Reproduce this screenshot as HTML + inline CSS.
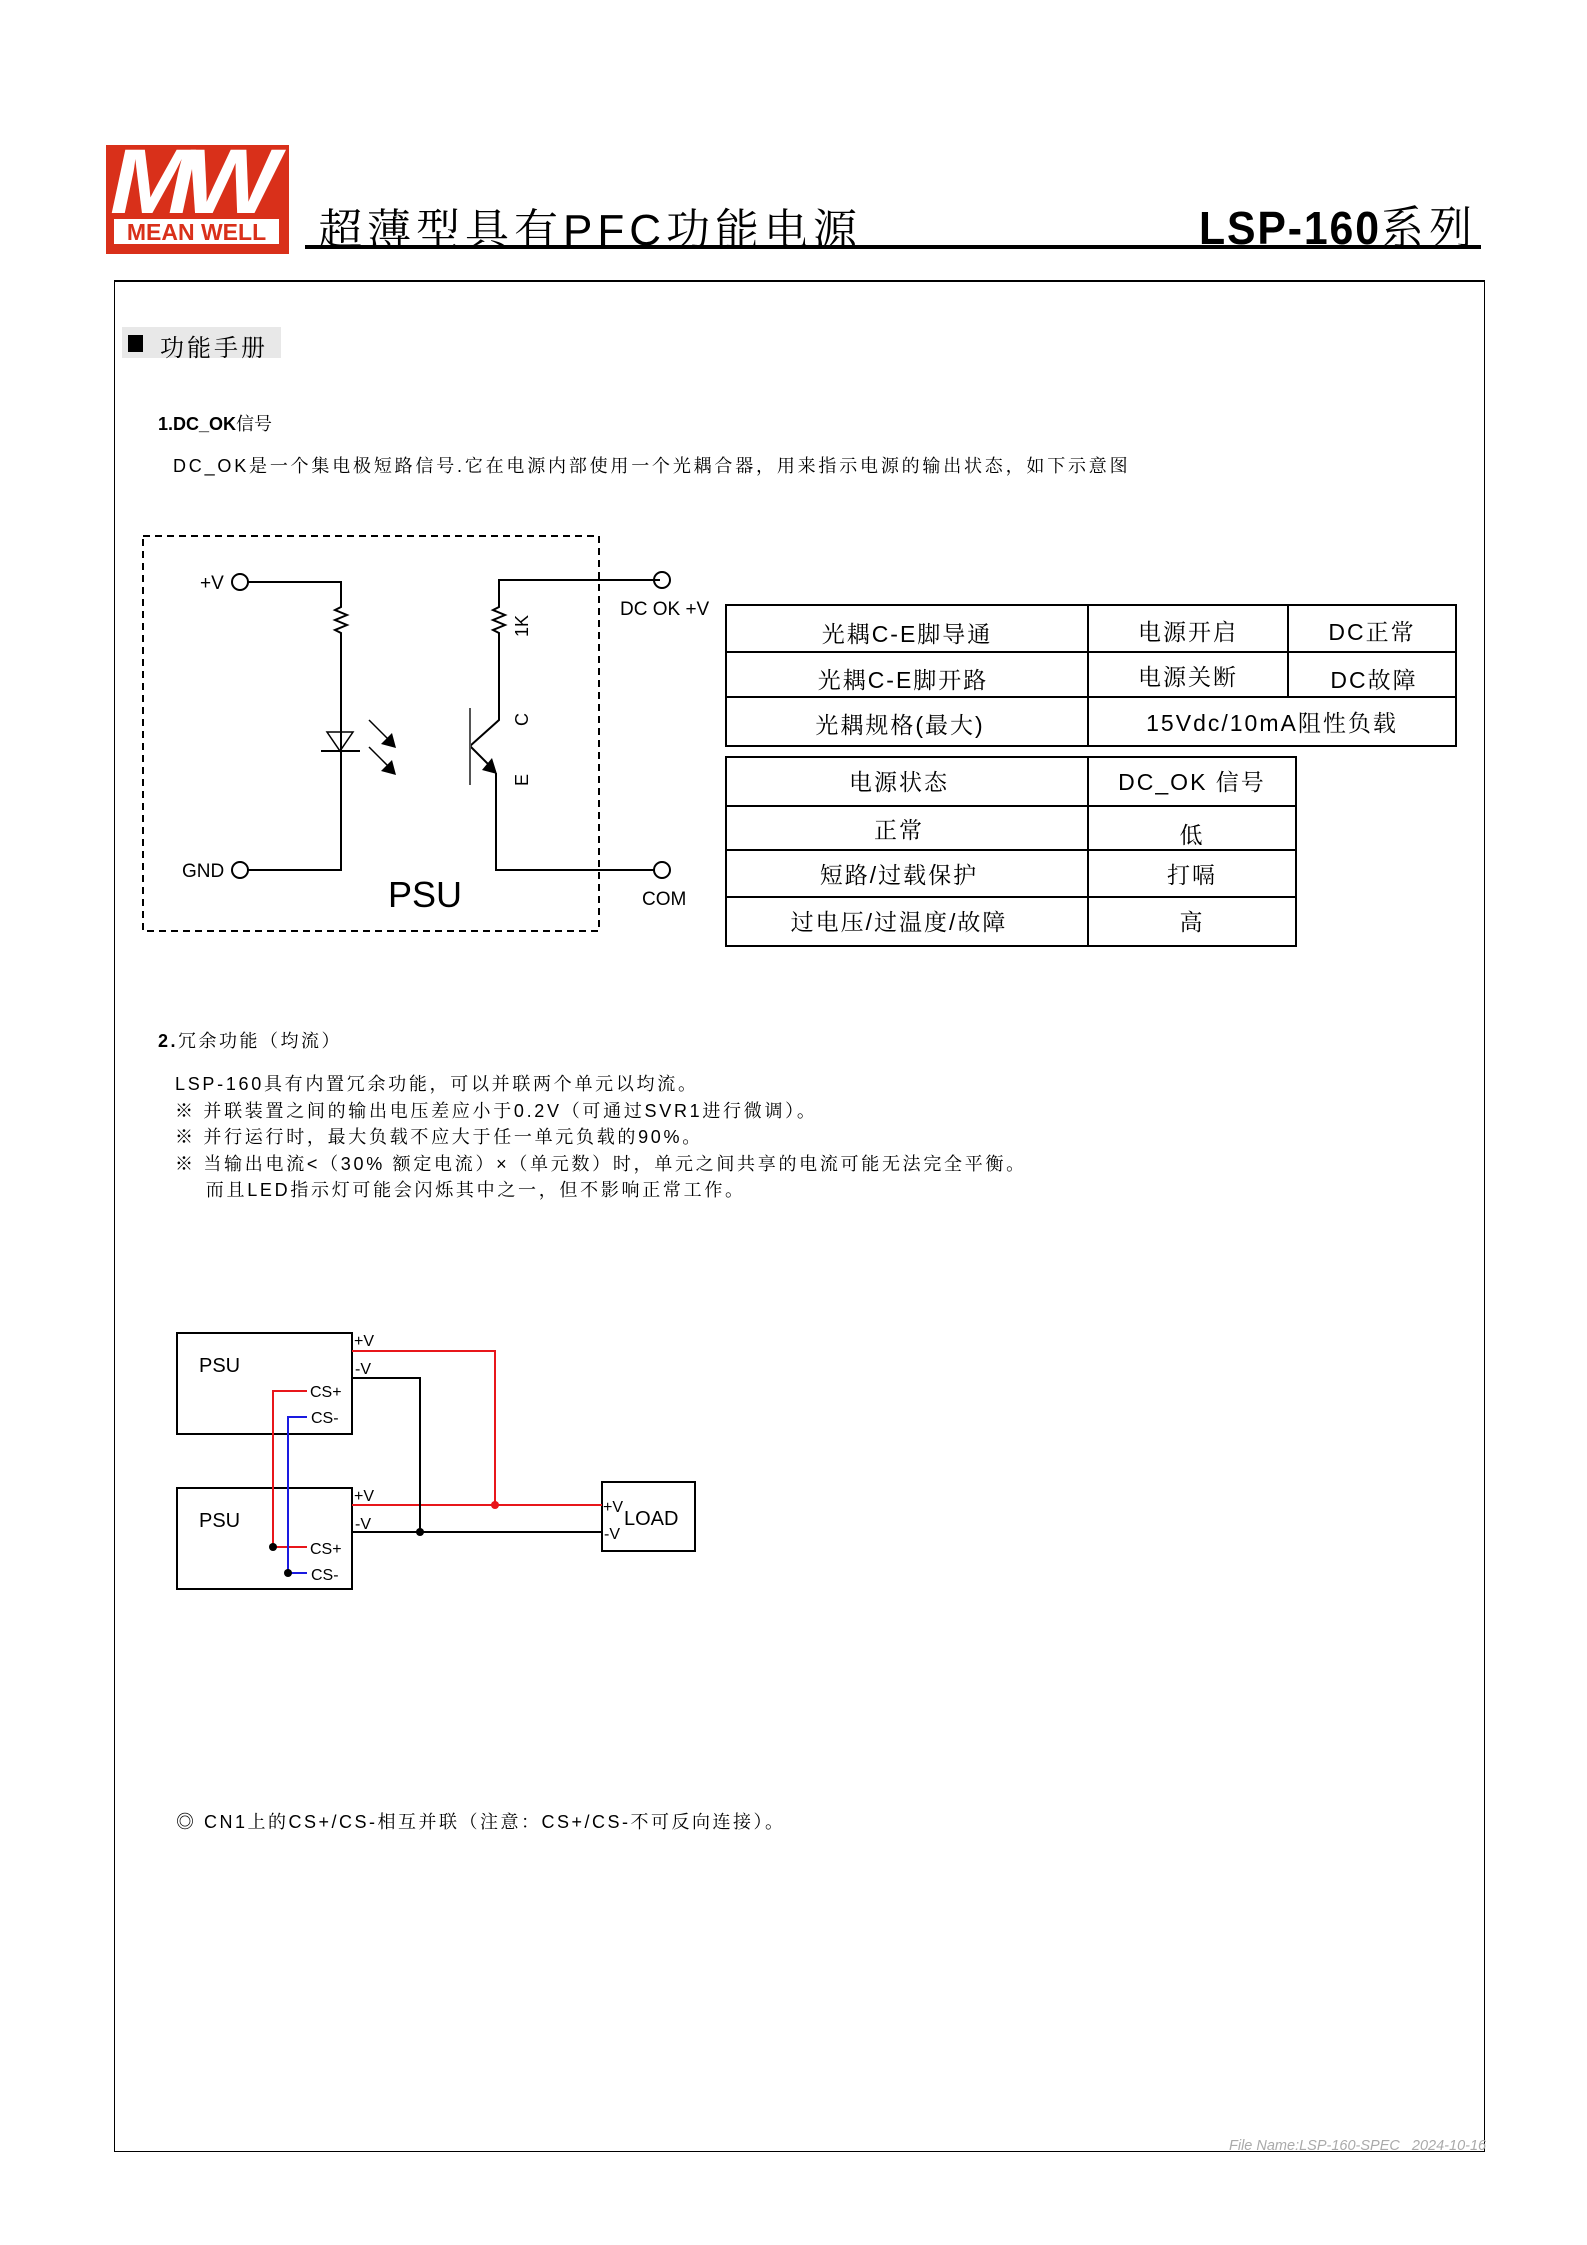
<!DOCTYPE html>
<html><head><meta charset="utf-8">
<style>
html,body{margin:0;padding:0;background:#fff;}
body{width:1587px;height:2245px;position:relative;overflow:hidden;font-family:"Liberation Sans","Noto Sans CJK SC",sans-serif;color:#000;}
.a{position:absolute;white-space:nowrap;}
.cjk{font-family:"Liberation Sans","Noto Serif CJK SC",serif;}
</style></head><body>
<!-- logo -->
<div class="a" style="left:106px;top:145px;width:183px;height:109px;background:#d9301a;"></div>
<div class="a" style="left:110px;top:136px;font:italic bold 92px/92px 'Liberation Sans',sans-serif;color:#fff;letter-spacing:-10px;transform:scaleX(1.1);transform-origin:left top;">MW</div>
<div class="a" style="left:114px;top:219px;width:165px;height:25px;background:#fff;"></div>
<div class="a" style="left:114px;top:219px;width:165px;text-align:center;font:bold 23px/26px 'Liberation Sans',sans-serif;color:#d9301a;">MEAN WELL</div>
<!-- title -->
<div class="a cjk" style="left:318px;top:194px;font-size:44px;letter-spacing:5px;">超薄型具有PFC功能电源</div>
<div class="a" style="left:1199px;top:192px;font:bold 46px 'Liberation Sans',sans-serif;letter-spacing:2px;transform:scaleX(0.93);transform-origin:left top;">LSP-160<span class="cjk" style="font-weight:normal;letter-spacing:6px;">系列</span></div>
<div class="a" style="left:305px;top:245px;width:1176px;height:4px;background:#000;"></div>
<!-- frame -->
<div class="a" style="left:114px;top:280px;width:1369px;height:1869px;border:1px solid #000;border-top:2px solid #000;"></div>
<div class="a" style="left:122px;top:327px;width:159px;height:31px;background:#e8e8e8;"></div>
<div class="a" style="left:128px;top:335px;width:15px;height:17px;background:#000;"></div>
<div class="a cjk" style="left:160px;top:328px;font-size:24px;letter-spacing:3px;">功能手册</div>
<div class="a cjk" style="left:158px;top:410px;font-size:18px;"><b style="font-family:'Liberation Sans'">1.DC_OK</b>信号</div>
<div class="a cjk" style="left:173px;top:452px;font-size:18px;letter-spacing:2.8px;">DC_OK是一个集电极短路信号.它在电源内部使用一个光耦合器，用来指示电源的输出状态，如下示意图</div>

<svg class="a" style="left:0;top:0" width="1587" height="2245" xmlns="http://www.w3.org/2000/svg">
<g fill="none" stroke="#000" stroke-width="2">
<rect x="143" y="536" width="456" height="395" stroke-dasharray="7,5"/>
<circle cx="240" cy="582" r="8"/>
<path d="M248 582H341V607l-6 3 12 5-12 5 12 5-12 5 6 3V870H248"/>
<circle cx="240" cy="870" r="8"/>
<path d="M660 580H499V607l-6 3 12 5-12 5 12 5-12 5 6 3V720L470 746"/>
<path d="M470 746L490 766M496 773V870H654"/>
<circle cx="662" cy="580" r="8"/>
<circle cx="662" cy="870" r="8"/>
<path d="M327 732H353L340 751Z" stroke-width="1.5"/>
<path d="M321 751H360"/>
<path d="M369 720L388 739M369 747L388 766" stroke-width="1.5"/>
<path d="M470 708V785" stroke="#555" stroke-width="2"/>
</g>
<path d="M396 748L381 744L392 733Z M396 775L381 771L392 760Z M497 774L482 770L492 758Z" fill="#000"/>
<g font-family="Liberation Sans,sans-serif" font-size="19">
<text x="200" y="589">+V</text>
<text x="182" y="877">GND</text>
<text x="620" y="615">DC OK +V</text>
<text x="642" y="905">COM</text>
<text x="388" y="907" font-size="36">PSU</text>
<text transform="translate(528,726) rotate(-90)" font-size="18">C</text>
<text transform="translate(528,786) rotate(-90)" font-size="18">E</text>
<text transform="translate(528,637) rotate(-90)" font-size="18">1K</text>
</g>
<!-- tables -->
<g fill="none" stroke="#000" stroke-width="2">
<rect x="726" y="605" width="730" height="141"/>
<path d="M726 652H1456M726 697H1456M1088 605V746M1288 605V697"/>
<rect x="726" y="757" width="570" height="189"/>
<path d="M726 806H1296M726 850H1296M726 897H1296M1088 757V946"/>
</g>
<g font-family="Liberation Sans,Noto Serif CJK SC,serif" font-size="23" text-anchor="middle" letter-spacing="2">
<text x="907" y="642">光耦C-E脚导通</text>
<text x="1188" y="640">电源开启</text>
<text x="1372" y="640">DC正常</text>
<text x="903" y="688">光耦C-E脚开路</text>
<text x="1188" y="685">电源关断</text>
<text x="1374" y="688">DC故障</text>
<text x="900" y="733">光耦规格(最大)</text>
<text x="1272" y="731">15Vdc/10mA阻性负载</text>
<text x="899" y="790">电源状态</text>
<text x="1192" y="790">DC_OK 信号</text>
<text x="899" y="838">正常</text>
<text x="1192" y="843">低</text>
<text x="899" y="883">短路/过载保护</text>
<text x="1192" y="883">打嗝</text>
<text x="899" y="930">过电压/过温度/故障</text>
<text x="1192" y="930">高</text>
</g>
<!-- parallel diagram -->
<g fill="none" stroke-width="2">
<rect x="177" y="1333" width="175" height="101" stroke="#000"/>
<rect x="177" y="1488" width="175" height="101" stroke="#000"/>
<rect x="602" y="1482" width="93" height="69" stroke="#000"/>
<path d="M352 1351H495V1505M352 1505H602" stroke="#e8161b"/>
<path d="M352 1378H420V1532M352 1532H602" stroke="#000"/>
<path d="M307 1391H273V1547H307" stroke="#e8161b"/>
<path d="M307 1417H288V1573H307" stroke="#1a1ae0"/>
</g>
<circle cx="495" cy="1505" r="4" fill="#e8161b"/>
<circle cx="420" cy="1532" r="4" fill="#000"/>
<circle cx="273" cy="1547" r="4" fill="#000"/>
<circle cx="288" cy="1573" r="4" fill="#000"/>
<g font-family="Liberation Sans,sans-serif" font-size="16">
<text x="199" y="1372" font-size="20">PSU</text>
<text x="199" y="1527" font-size="20">PSU</text>
<text x="354" y="1346">+V</text><text x="355" y="1374">-V</text>
<text x="310" y="1397">CS+</text><text x="311" y="1423">CS-</text>
<text x="354" y="1501">+V</text><text x="355" y="1529">-V</text>
<text x="310" y="1554">CS+</text><text x="311" y="1580">CS-</text>
<text x="603" y="1512">+V</text><text x="604" y="1539">-V</text>
<text x="624" y="1525" font-size="20">LOAD</text>
</g>
</svg>

<div class="a cjk" style="left:158px;top:1027px;font-size:18px;letter-spacing:2.5px;"><b style="font-family:'Liberation Sans'">2.</b>冗余功能（均流）</div>
<div class="a cjk" style="left:175px;top:1071px;font-size:18px;line-height:26.6px;letter-spacing:2.7px;">LSP-160具有内置冗余功能，可以并联两个单元以均流。<br>※ 并联装置之间的输出电压差应小于0.2V（可通过SVR1进行微调）。<br>※ 并行运行时，最大负载不应大于任一单元负载的90%。<br>※ 当输出电流&lt;（30% 额定电流）×（单元数）时，单元之间共享的电流可能无法完全平衡。<br>&nbsp;&nbsp;&nbsp;&nbsp;而且LED指示灯可能会闪烁其中之一，但不影响正常工作。</div>
<div class="a cjk" style="left:176px;top:1808px;font-size:18px;letter-spacing:2.5px;">◎ CN1上的CS+/CS-相互并联（注意：CS+/CS-不可反向连接）。</div>
<div class="a" style="left:1229px;top:2138px;font:italic 14.5px 'Liberation Sans',sans-serif;color:#aaa;">File Name:LSP-160-SPEC &nbsp; 2024-10-16</div>
</body></html>
